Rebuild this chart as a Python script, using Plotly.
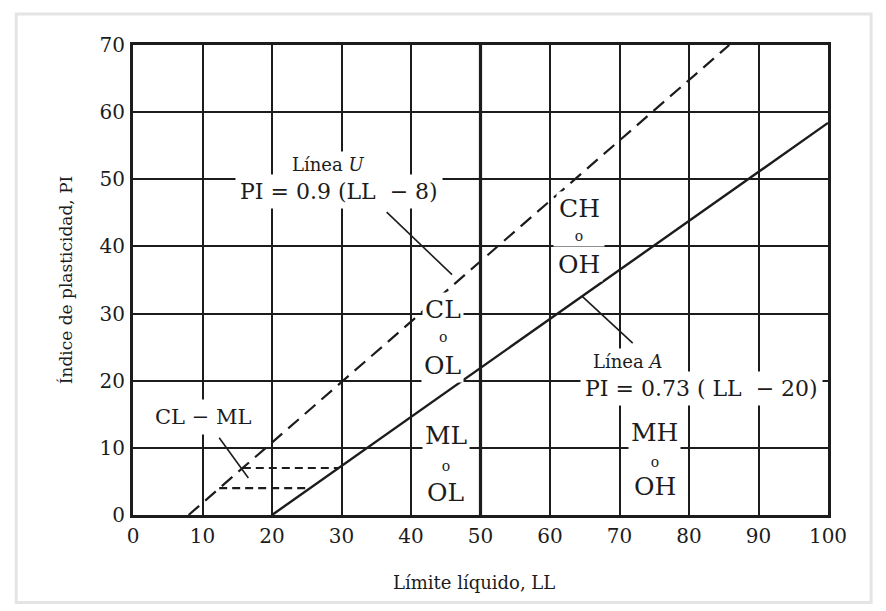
import plotly.graph_objects as go

# ---- data ----
x_ticks = [0, 10, 20, 30, 40, 50, 60, 70, 80, 90, 100]
y_ticks = [0, 10, 20, 30, 40, 50, 60, 70]

u_line_ll = [8, 85.8]      # Línea U endpoints
u_line_pi = [0, 70]
a_line_ll = [20, 100]      # Línea A endpoints
a_line_pi = [0, 58.4]

clml_upper_ll = [15.8, 29.6]   # dashed horizontal at PI = 7
clml_upper_pi = [7, 7]
clml_lower_ll = [12.4, 25.5]   # dashed horizontal at PI = 4
clml_lower_pi = [4, 4]

lead_u_ll = [36.5, 45.9]
lead_u_pi = [45.1, 35.8]
lead_a_ll = [64.6, 71.9]
lead_a_pi = [32.6, 25.6]
lead_c_ll = [12.4, 16.6]
lead_c_pi = [11.5, 5.5]

INK = "#1c1c1c"
SERIF = "DejaVu Serif, Liberation Serif, serif"

fig = go.Figure()

def line(xs, ys, dash="solid", width=2):
    fig.add_trace(go.Scatter(x=xs, y=ys, mode="lines",
                             line=dict(color=INK, width=width, dash=dash),
                             hoverinfo="skip", showlegend=False))

line(u_line_ll, u_line_pi, dash="14px,8px", width=2.2)
line(a_line_ll, a_line_pi, width=2.4)
line(clml_upper_ll, clml_upper_pi, dash="8px,5px", width=2.2)
line(clml_lower_ll, clml_lower_pi, dash="8px,5px", width=2.2)
line(lead_u_ll, lead_u_pi, width=1.6)
line(lead_a_ll, lead_a_pi, width=1.6)
line(lead_c_ll, lead_c_pi, width=1.6)

# bold vertical line at LL = 50
fig.add_shape(type="line", x0=50, x1=50, y0=0, y1=70, xref="x", yref="y",
              line=dict(color=INK, width=3.2), layer="between")

ann = []

def label(text, x, y, size=25, width=None, pad=2):
    d = dict(x=x, y=y, xref="x", yref="y", text=text, showarrow=False,
             font=dict(family=SERIF, size=size, color=INK),
             bgcolor="white", borderpad=pad)
    if width:
        d["width"] = width
    ann.append(d)

label("Línea <i>U</i>", 28, 52.2, size=18)
label("PI = 0.9 (LL\u00a0\u00a0− 8)", 29.6, 48.2, size=22, pad=4)
label("CH", 64.2, 45.7)
label("o", 64.2, 41.6, size=14, width=46)
label("OH", 64.2, 37.3)
label("CL", 44.6, 30.6)
label("o", 44.6, 26.5, size=14)
label("OL", 44.6, 22.2)
label("ML", 45, 11.8)
label("o", 45, 7.3, size=14, width=42)
label("OL", 45, 3.3)
label("MH", 75.1, 12.3)
label("o", 75.1, 7.9, size=14, width=42)
label("OH", 75.1, 4.2)
label("Línea <i>A</i>", 71.1, 22.9, size=18)
label("PI = 0.73 ( LL\u00a0\u00a0− 20)", 81.8, 18.9, size=22, pad=4)
label("CL − ML", 10.1, 14.6, size=21, pad=5)

# axis titles
ann.append(dict(x=-0.096, y=0.5, xref="paper", yref="paper", showarrow=False,
                xanchor="center", yanchor="middle",
                text="Índice de plasticidad, PI", textangle=-90,
                font=dict(family=SERIF, size=17, color=INK)))
ann.append(dict(x=0.49, y=-0.144, xref="paper", yref="paper", showarrow=False,
                xanchor="center", yanchor="middle",
                text="Límite líquido, LL",
                font=dict(family=SERIF, size=18, color=INK)))

# faint page border
fig.add_shape(type="rect", xref="paper", yref="paper",
              x0=-0.168, x1=1.062, y0=-0.186, y1=1.066,
              line=dict(color="#e4e4e4", width=3), layer="below")

axis_common = dict(showgrid=True, gridcolor=INK, gridwidth=1.8,
                   showline=True, linecolor=INK, linewidth=3.2, mirror=True,
                   zeroline=False, ticks="",
                   tickfont=dict(family=SERIF, size=20, color=INK))

fig.update_xaxes(range=[0, 100], tickvals=x_ticks, ticklabelstandoff=1, **axis_common)
fig.update_yaxes(range=[0, 70], tickvals=y_ticks, ticklabelstandoff=1, **axis_common)

fig.update_layout(width=878, height=603,
                  margin=dict(l=125, r=58, t=37, b=96),
                  paper_bgcolor="white", plot_bgcolor="white",
                  annotations=ann, showlegend=False)

fig.write_html("out.html")
